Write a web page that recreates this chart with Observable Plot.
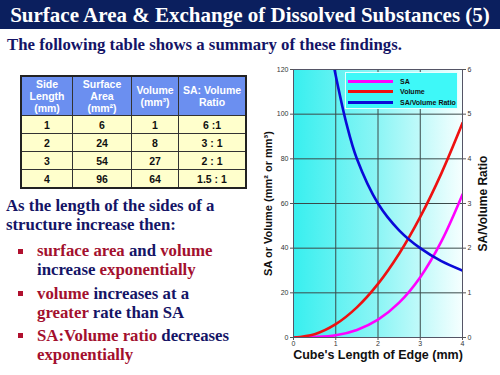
<!DOCTYPE html>
<html><head><meta charset="utf-8">
<script src="https://cdn.jsdelivr.net/npm/d3@7"></script>
<script src="https://cdn.jsdelivr.net/npm/@observablehq/plot@0.6"></script>
<style>
body{margin:0;width:500px;height:375px;position:relative;overflow:hidden;background:#fff;font-family:"Liberation Serif","Times New Roman",serif}
#titlebar{position:absolute;left:0;top:0;width:500px;height:29px;background:#0b1f5e;color:#fff;font-weight:bold;font-size:21px;text-align:center;line-height:30px;white-space:nowrap}
#sub{position:absolute;left:7px;top:35px;font-weight:bold;font-size:16.8px;color:#141466;white-space:nowrap}
#tbl{position:absolute;left:20px;top:75px;border-collapse:collapse;font-family:"Liberation Sans",Arial,sans-serif;font-weight:bold;font-size:10.5px;border:2px solid #222}
#tbl td,#tbl th{border:1px solid #333;text-align:center;padding:0}
#tbl th{background:#6b8ff0;color:#fff;height:38px;line-height:12px;font-weight:bold}
#tbl td{background:#ffffcc;color:#111;height:17px}
.txt{position:absolute;font-weight:bold;font-size:16.8px;line-height:19px;color:#141466;white-space:nowrap}
.red{color:#a3102e}
.bul{position:absolute;width:5px;height:5px;background:#b0102e}
#chart{position:absolute;left:255px;top:60px}
#legend{position:absolute;left:345px;top:72px;width:111px;height:35px;background:#3ef8f8;border:1px solid #e6ffff;font-family:"Liberation Sans",Arial,sans-serif;font-weight:bold;font-size:7px;color:#111}
.lrow{position:absolute;left:2px;height:10px;display:flex;align-items:center}
.lline{width:45px;height:3px;margin-right:7px}
</style></head>
<body>
<div id="titlebar">Surface Area &amp; Exchange of Dissolved Substances (5)</div>
<div id="sub">The following table shows a summary of these findings.</div>
<table id="tbl"></table>
<div class="txt" style="left:6px;top:196px">As the length of the sides of a<br>structure increase then:</div>
<div class="bul" style="left:18px;top:249px"></div>
<div class="txt" style="left:37px;top:241px"><span class="red">surface area</span> and <span class="red">volume</span><br>increase <span class="red">exponentially</span></div>
<div class="bul" style="left:18px;top:291px"></div>
<div class="txt" style="left:37px;top:284px"><span class="red">volume</span> increases at a<br><span class="red">greater</span> rate than SA</div>
<div class="bul" style="left:18px;top:333px"></div>
<div class="txt" style="left:37px;top:326px"><span class="red">SA:Volume ratio</span> decreases<br><span class="red">exponentially</span></div>
<div id="chart"></div>
<div id="legend"></div>
<script>
// Table data
const tableHeaders = ["Side<br>Length<br>(mm)", "Surface<br>Area<br>(mm²)", "Volume<br>(mm³)", "SA: Volume<br>Ratio"];
const sideLength = [1, 2, 3, 4];
const surfaceArea = [6, 24, 54, 96];
const volume = [1, 8, 27, 64];
const ratioLabels = ["6 :1", "3 : 1", "2 : 1", "1.5 : 1"];
const colWidths = [50, 58, 46, 66];

// Chart data
const redX = [0, 0.5, 1, 1.5, 2, 2.5, 3, 3.5, 4];
const redY = [0, 1.5, 6, 13.5, 24, 37.5, 54, 73.5, 96];
const magentaX = [0, 0.5, 1, 1.5, 2, 2.5, 3, 3.5, 4];
const magentaY = [0, 0.2, 1, 3.4, 8, 15.6, 27, 43, 64];
const blueX = [0.97, 1.25, 1.5, 2, 2.5, 3, 3.5, 4];
const blueRatio = [6, 4.8, 4, 3, 2.4, 2, 1.71, 1.5];
const xTicks = [0, 1, 2, 3, 4];
const yTicks = [0, 20, 40, 60, 80, 100, 120];
const ratioTicks = [0, 1, 2, 3, 4, 5, 6];
const legendLabels = ["SA", "Volume", "SA/Volume Ratio"];
const legendColors = ["#ff00ff", "#ee1111", "#0a0ad8"];

// Build table
const tbl = document.getElementById("tbl");
let html = "<tr>" + tableHeaders.map((h, i) => `<th style="width:${colWidths[i]}px">${h}</th>`).join("") + "</tr>";
sideLength.forEach((s, i) => {
  html += `<tr><td>${s}</td><td>${surfaceArea[i]}</td><td>${volume[i]}</td><td>${ratioLabels[i]}</td></tr>`;
});
tbl.innerHTML = html;

// Legend
const leg = document.getElementById("legend");
legendLabels.forEach((l, i) => {
  const r = document.createElement("div");
  r.className = "lrow";
  r.style.top = (3 + i * 10.5) + "px";
  r.innerHTML = `<div class="lline" style="background:${legendColors[i]}"></div><span>${l}</span>`;
  leg.appendChild(r);
});

const red = redX.map((x, i) => ({x, y: redY[i]}));
const mag = magentaX.map((x, i) => ({x, y: magentaY[i]}));
const blue = blueX.map((x, i) => ({x, r: blueRatio[i]}));
const ratioScale = 20; // right axis 0..6 maps to left 0..120

function gradientDefs() {
  const ns = "http://www.w3.org/2000/svg";
  const defs = document.createElementNS(ns, "defs");
  const g = document.createElementNS(ns, "linearGradient");
  g.setAttribute("id", "bgGrad");
  g.setAttribute("x1", "0"); g.setAttribute("x2", "1"); g.setAttribute("y1", "0"); g.setAttribute("y2", "0");
  [["0", "#38efef"], ["0.5", "#8cf5f5"], ["1", "#f6ffff"]].forEach(([o, c]) => {
    const s = document.createElementNS(ns, "stop");
    s.setAttribute("offset", o); s.setAttribute("stop-color", c);
    g.appendChild(s);
  });
  defs.appendChild(g);
  return defs;
}

const chart = Plot.plot({
  width: 245,
  height: 315,
  marginLeft: 38,
  marginRight: 38,
  marginTop: 9,
  marginBottom: 38,
  style: {fontFamily: "'Liberation Sans', Arial, sans-serif", fontSize: "7px", color: "#333", background: "transparent"},
  x: {domain: [0, 4]},
  y: {domain: [0, 120]},
  marks: [
    gradientDefs,
    Plot.frame({fill: "url(#bgGrad)", stroke: null}),
    Plot.ruleX(xTicks, {stroke: "#3a4a4a", strokeWidth: 1}),
    Plot.ruleY(yTicks, {stroke: "#3a4a4a", strokeWidth: 1}),
    Plot.line(mag, {x: "x", y: "y", stroke: "#ff00ff", strokeWidth: 2.6, curve: "catmull-rom", clip: true}),
    Plot.line(red, {x: "x", y: "y", stroke: "#ee1111", strokeWidth: 2.6, curve: "catmull-rom", clip: true}),
    Plot.line(blue, {x: "x", y: d => d.r * ratioScale, stroke: "#0a0ad8", strokeWidth: 2.6, curve: "catmull-rom", clip: true}),
    Plot.frame({stroke: "#556"}),
    Plot.axisX(xTicks, {tickSize: 3, tickPadding: 1, label: null, stroke: "#555"}),
    Plot.axisY(yTicks, {anchor: "left", tickSize: 3, tickPadding: 2, label: null, stroke: "#555"}),
    Plot.axisY(ratioTicks.map(d => d * ratioScale), {anchor: "right", tickSize: 3, tickPadding: 2, label: null, tickFormat: d => d / ratioScale, stroke: "#555"}),
    Plot.text(["SA or Volume (mm² or mm³)"], {frameAnchor: "left", textAnchor: "middle", dx: -25, rotate: -90, fontSize: 11, fontWeight: "bold", fill: "#111"}),
    Plot.text(["SA/Volume Ratio"], {frameAnchor: "right", textAnchor: "middle", dx: 21, rotate: -90, fontSize: 12, fontWeight: "bold", fill: "#111"}),
    Plot.text(["Cube's Length of Edge (mm)"], {frameAnchor: "bottom", textAnchor: "middle", dy: 21, fontSize: 12.5, fontWeight: "bold", fill: "#111"})
  ]
});
document.getElementById("chart").appendChild(chart);
</script>
</body></html>
